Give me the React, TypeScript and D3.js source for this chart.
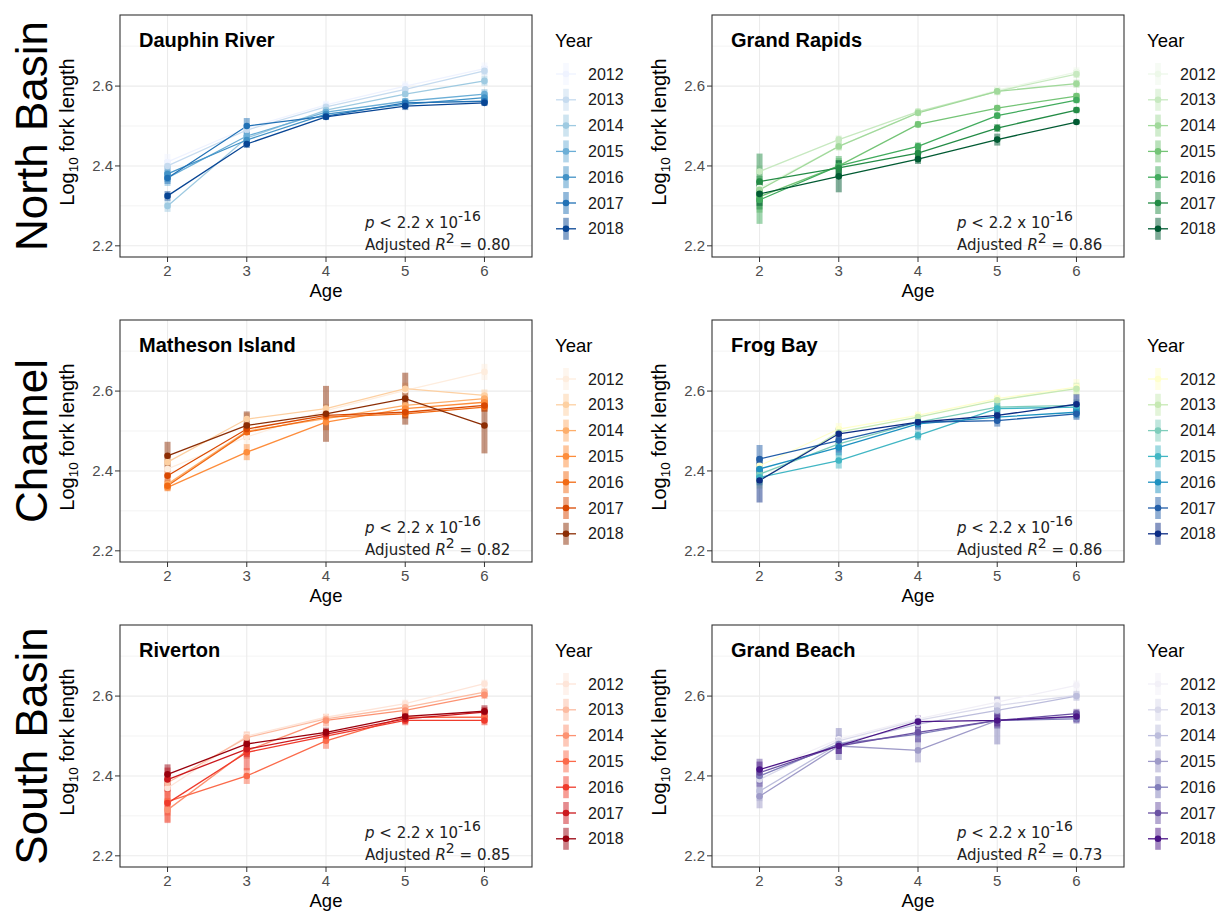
import React from "react";
import * as d3 from "d3";

const AGES = [2, 3, 4, 5, 6];
const YEARS = ["2012", "2013", "2014", "2015", "2016", "2017", "2018"];
const SITES = ["Dauphin River", "Grand Rapids", "Matheson Island", "Frog Bay", "Riverton", "Grand Beach"];
const BASINS = ["North Basin", "Channel", "South Basin"];
const R2_LABELS = ["0.80", "0.86", "0.82", "0.86", "0.85", "0.73"];
const Y_TICKS = [2.2, 2.4, 2.6];
const Y_MINOR = [2.3, 2.5, 2.7];

// mean log10 fork length, rows = years 2012..2018, cols = ages 2..6
const dauphinMean = [
  [2.41, 2.495, 2.553, 2.6, 2.644],
  [2.4, 2.49, 2.548, 2.592, 2.638],
  [2.3, 2.47, 2.54, 2.58, 2.613],
  [2.37, 2.475, 2.535, 2.562, 2.58],
  [2.38, 2.465, 2.53, 2.554, 2.571],
  [2.37, 2.5, 2.525, 2.558, 2.562],
  [2.325, 2.455, 2.523, 2.55, 2.558],
];
const dauphinSE = [
  [0.02, 0.012, 0.01, 0.012, 0.015],
  [0.015, 0.01, 0.008, 0.01, 0.012],
  [0.015, 0.01, 0.008, 0.008, 0.012],
  [0.02, 0.012, 0.008, 0.008, 0.012],
  [0.02, 0.012, 0.008, 0.008, 0.01],
  [0.015, 0.02, 0.008, 0.01, 0.008],
  [0.012, 0.01, 0.008, 0.01, 0.008],
];
const rapidsMean = [
  [2.345, 2.449, 2.533, 2.59, 2.635],
  [2.386, 2.466, 2.536, 2.587, 2.63],
  [2.34, 2.449, 2.533, 2.587, 2.606],
  [2.323, 2.4, 2.504, 2.545, 2.575],
  [2.315, 2.4, 2.449, 2.526, 2.565],
  [2.361, 2.395, 2.432, 2.495, 2.54],
  [2.33, 2.374, 2.417, 2.466, 2.51],
];
const rapidsSE = [
  [0.02, 0.01, 0.008, 0.01, 0.012],
  [0.015, 0.01, 0.008, 0.01, 0.01],
  [0.03, 0.01, 0.008, 0.008, 0.01],
  [0.04, 0.02, 0.008, 0.008, 0.008],
  [0.06, 0.025, 0.01, 0.008, 0.008],
  [0.07, 0.02, 0.02, 0.01, 0.008],
  [0.03, 0.04, 0.012, 0.015, 0.006],
];
const mathesonMean = [
  [2.405, 2.485, 2.551, 2.602, 2.648],
  [2.422, 2.53, 2.556, 2.606, 2.589],
  [2.367, 2.5, 2.531, 2.564, 2.581],
  [2.359, 2.447, 2.522, 2.556, 2.572],
  [2.363, 2.497, 2.535, 2.543, 2.56],
  [2.388, 2.505, 2.539, 2.547, 2.564],
  [2.438, 2.514, 2.543, 2.581, 2.514],
];
const mathesonSE = [
  [0.015, 0.02, 0.012, 0.015, 0.02],
  [0.012, 0.015, 0.012, 0.015, 0.015],
  [0.012, 0.015, 0.015, 0.012, 0.012],
  [0.01, 0.02, 0.02, 0.015, 0.012],
  [0.012, 0.015, 0.015, 0.012, 0.012],
  [0.015, 0.015, 0.02, 0.015, 0.015],
  [0.035, 0.035, 0.07, 0.065, 0.07],
];
const frogMean = [
  [2.413, 2.505, 2.539, 2.581, 2.61],
  [2.376, 2.497, 2.535, 2.577, 2.606],
  [2.392, 2.468, 2.522, 2.56, 2.564],
  [2.384, 2.426, 2.489, 2.556, 2.56],
  [2.405, 2.459, 2.518, 2.535, 2.547],
  [2.43, 2.476, 2.522, 2.526, 2.543],
  [2.376, 2.493, 2.522, 2.539, 2.567],
];
const frogSE = [
  [0.02, 0.015, 0.01, 0.01, 0.02],
  [0.02, 0.012, 0.01, 0.01, 0.015],
  [0.025, 0.015, 0.01, 0.012, 0.015],
  [0.02, 0.02, 0.012, 0.015, 0.012],
  [0.03, 0.02, 0.012, 0.012, 0.015],
  [0.035, 0.03, 0.02, 0.015, 0.015],
  [0.055, 0.015, 0.012, 0.015, 0.025],
];
const rivertonMean = [
  [2.37, 2.5, 2.547, 2.581, 2.631],
  [2.383, 2.496, 2.543, 2.572, 2.61],
  [2.315, 2.463, 2.539, 2.564, 2.603],
  [2.336, 2.4, 2.488, 2.547, 2.547],
  [2.332, 2.459, 2.5, 2.539, 2.539],
  [2.391, 2.467, 2.505, 2.543, 2.56],
  [2.404, 2.48, 2.509, 2.549, 2.562],
];
const rivertonSE = [
  [0.02, 0.012, 0.01, 0.01, 0.01],
  [0.02, 0.015, 0.01, 0.01, 0.01],
  [0.03, 0.02, 0.015, 0.01, 0.01],
  [0.035, 0.02, 0.02, 0.012, 0.01],
  [0.05, 0.045, 0.015, 0.012, 0.012],
  [0.03, 0.02, 0.012, 0.012, 0.012],
  [0.025, 0.02, 0.012, 0.012, 0.015],
];
const beachMean = [
  [2.408, 2.492, 2.543, 2.585, 2.627],
  [2.391, 2.488, 2.539, 2.576, 2.602],
  [2.362, 2.48, 2.53, 2.564, 2.6],
  [2.349, 2.475, 2.464, 2.539, 2.547],
  [2.4, 2.48, 2.505, 2.539, 2.543],
  [2.408, 2.475, 2.509, 2.539, 2.556],
  [2.416, 2.475, 2.536, 2.539, 2.549],
];
const beachSE = [
  [0.015, 0.012, 0.01, 0.012, 0.012],
  [0.02, 0.015, 0.01, 0.012, 0.012],
  [0.025, 0.015, 0.012, 0.015, 0.012],
  [0.03, 0.02, 0.03, 0.02, 0.012],
  [0.02, 0.04, 0.02, 0.06, 0.012],
  [0.035, 0.02, 0.025, 0.02, 0.012],
  [0.02, 0.02, 0.015, 0.015, 0.015],
];

const MEANS = [dauphinMean, rapidsMean, mathesonMean, frogMean, rivertonMean, beachMean];
const SES = [dauphinSE, rapidsSE, mathesonSE, frogSE, rivertonSE, beachSE];
const PALETTES = [
  d3.schemeBlues[7],
  d3.schemeGreens[7],
  d3.schemeOranges[7],
  d3.schemeYlGnBu[7],
  d3.schemeReds[7],
  d3.schemePurples[7],
];

const COL_LEFT = [120, 712];
const ROW_TOP = [15, 320, 625];
const PW = 412;
const PH = 242;
const SANS = "'Liberation Sans', Arial, Helvetica, sans-serif";
const DEJAVU = "'DejaVu Sans', Verdana, sans-serif";

function Panel({ idx }: { idx: number }) {
  const col = idx % 2;
  const row = Math.floor(idx / 2);
  const left = COL_LEFT[col];
  const top = ROW_TOP[row];
  const x = d3.scaleLinear().domain([1.4, 6.6]).range([left, left + PW]);
  const y = d3.scaleLinear().domain([2.172, 2.778]).range([top + PH, top]);
  const colors = PALETTES[idx];
  const means = MEANS[idx];
  const ses = SES[idx];
  const line = d3
    .line<number>()
    .x((_, i) => x(AGES[i]))
    .y((d) => y(d));

  const legX = left + PW;
  return (
    <g>
      <clipPath id={`clip${idx}`}>
        <rect x={left} y={top} width={PW} height={PH} />
      </clipPath>
      <rect x={left} y={top} width={PW} height={PH} fill="#fff" />
      {Y_MINOR.map((v) => (
        <line key={"mn" + v} x1={left} x2={left + PW} y1={y(v)} y2={y(v)} stroke="#ebebeb" strokeWidth={0.6} />
      ))}
      {Y_TICKS.map((v) => (
        <line key={"mj" + v} x1={left} x2={left + PW} y1={y(v)} y2={y(v)} stroke="#ebebeb" strokeWidth={1.1} />
      ))}
      {AGES.map((a) => (
        <line key={"vx" + a} x1={x(a)} x2={x(a)} y1={top} y2={top + PH} stroke="#ebebeb" strokeWidth={1.1} />
      ))}
      <g clipPath={`url(#clip${idx})`}>
        {means.map((row_, yi) =>
          row_.map((m, ai) => (
            <rect
              key={`b${yi}-${ai}`}
              x={x(AGES[ai]) - 3}
              width={6}
              y={y(m + ses[yi][ai])}
              height={y(m - ses[yi][ai]) - y(m + ses[yi][ai])}
              fill={colors[yi]}
              opacity={0.5}
            />
          ))
        )}
        {means.map((row_, yi) => (
          <path key={`l${yi}`} d={line(row_) || ""} fill="none" stroke={colors[yi]} strokeWidth={1.3} />
        ))}
        {means.map((row_, yi) =>
          row_.map((m, ai) => <circle key={`p${yi}-${ai}`} cx={x(AGES[ai])} cy={y(m)} r={3.3} fill={colors[yi]} />)
        )}
      </g>
      <rect x={left} y={top} width={PW} height={PH} fill="none" stroke="#333" strokeWidth={1.1} />
      {/* y axis */}
      {Y_TICKS.map((v) => (
        <g key={"yt" + v}>
          <line x1={left - 5} x2={left} y1={y(v)} y2={y(v)} stroke="#333" strokeWidth={1} />
          <text x={left - 7} y={y(v)} dy="0.35em" textAnchor="end" fontSize={15} fill="#4d4d4d" fontFamily={SANS}>
            {v.toFixed(1)}
          </text>
        </g>
      ))}
      {/* x axis */}
      {AGES.map((a) => (
        <g key={"xt" + a}>
          <line x1={x(a)} x2={x(a)} y1={top + PH} y2={top + PH + 5} stroke="#333" strokeWidth={1} />
          <text x={x(a)} y={top + PH + 19} textAnchor="middle" fontSize={15} fill="#4d4d4d" fontFamily={SANS}>
            {a}
          </text>
        </g>
      ))}
      <text x={left + PW / 2} y={top + PH + 40} textAnchor="middle" fontSize={18.5} fill="#000" fontFamily={SANS}>
        Age
      </text>
      <text
        transform={`translate(${left - 46},${top + PH / 2 - 4}) rotate(-90)`}
        textAnchor="middle"
        fontSize={20}
        fill="#000"
        fontFamily={SANS}
      >
        Log
        <tspan fontSize={13.5} dy={4}>10</tspan>
        <tspan dy={-4}> fork length</tspan>
      </text>
      {/* title */}
      <text x={left + 19} y={top + 32} fontSize={20} fontWeight="bold" fill="#000" fontFamily={SANS}>
        {SITES[idx]}
      </text>
      {/* annotation */}
      <text x={left + 245} y={top + 213} fontSize={15} fill="#222" fontFamily={DEJAVU}>
        <tspan fontStyle="italic">p</tspan> {"< 2.2 x 10"}
        <tspan fontSize={14} dy={-7}>-16</tspan>
      </text>
      <text x={left + 245} y={top + 235} fontSize={15} fill="#222" fontFamily={DEJAVU}>
        {"Adjusted "}
        <tspan fontStyle="italic">R</tspan>
        <tspan fontSize={14} dy={-7}>2</tspan>
        <tspan dy={7}>{" = " + R2_LABELS[idx]}</tspan>
      </text>
      {/* legend */}
      <text x={legX + 23} y={top + 32} fontSize={18.5} fill="#000" fontFamily={SANS}>
        Year
      </text>
      {YEARS.map((yr, i) => {
        const cy = top + 59 + i * 25.8;
        const cx = legX + 34;
        return (
          <g key={"lg" + yr}>
            <rect x={cx - 2.8} y={cy - 11} width={5.6} height={22} fill={colors[i]} opacity={0.5} />
            <line x1={cx - 10} x2={cx + 10} y1={cy} y2={cy} stroke={colors[i]} strokeWidth={1.3} />
            <circle cx={cx} cy={cy} r={3.3} fill={colors[i]} />
            <text x={legX + 56} y={cy} dy="0.35em" fontSize={16} fill="#1a1a1a" fontFamily={SANS}>
              {yr}
            </text>
          </g>
        );
      })}
    </g>
  );
}

export default function App() {
  const panels = d3.range(SITES.length);
  return (
    <svg
      width={1222}
      height={914}
      style={{ position: "absolute", left: 0, top: 0, display: "block", background: "#fff" }}
    >
      <rect width={1222} height={914} fill="#fff" />
      {BASINS.map((b, i) => (
        <text
          key={b}
          transform={`translate(47,${ROW_TOP[i] + PH / 2}) rotate(-90)`}
          textAnchor="middle"
          fontSize={44}
          fill="#000"
          fontFamily={SANS}
        >
          {b}
        </text>
      ))}
      {panels.map((i) => (
        <Panel key={i} idx={i} />
      ))}
    </svg>
  );
}
